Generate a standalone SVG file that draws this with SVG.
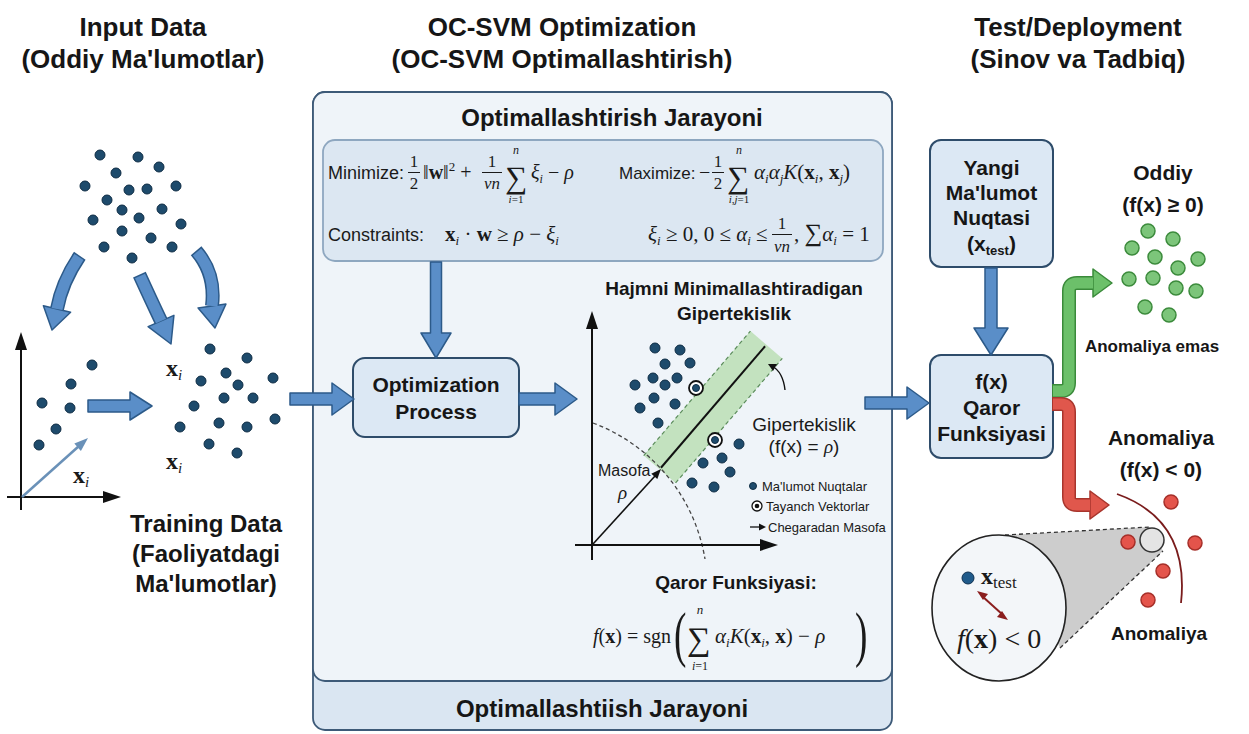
<svg xmlns="http://www.w3.org/2000/svg" width="1249" height="734" viewBox="0 0 1249 734">
<defs>
<style>
.h{font-family:"Liberation Sans",Arial,sans-serif;font-weight:bold;fill:#161616;text-anchor:middle}
.s{font-family:"Liberation Sans",Arial,sans-serif;fill:#1a1a1a}
.m{font-family:"Liberation Serif","DejaVu Serif",serif;fill:#1a1a1a}
.mc{font-family:"Liberation Serif","DejaVu Serif",serif;fill:#1a1a1a;text-anchor:middle}
.i{font-style:italic}
.b{font-weight:bold}
.dot{fill:#1e4b6c;stroke:#0e2c44;stroke-width:1}
.barrow{fill:#5a8ec8;stroke:#2c5a89;stroke-width:1.5;stroke-linejoin:round}
.bo{fill:none;stroke:#2c5a89;stroke-width:14}
.bi{fill:none;stroke:#5a8ec8;stroke-width:11}
.gdot{fill:#7cc57a;stroke:#3c8b3c;stroke-width:1.5}
.rdot{fill:#e4544b;stroke:#a62f29;stroke-width:1.5}
.ax{stroke:#111;stroke-width:2;fill:none}
.box{fill:#dce8f4;stroke:#2e4c6a;stroke-width:2}
</style>
</defs>
<rect width="1249" height="734" fill="#ffffff"/>

<!-- Titles -->
<g id="titles">
<text class="h" x="143" y="36" font-size="26">Input Data</text>
<text class="h" x="143" y="68" font-size="26">(Oddiy Ma'lumotlar)</text>
<text class="h" x="562" y="36" font-size="26">OC-SVM Optimization</text>
<text class="h" x="562" y="68" font-size="26">(OC-SVM Optimallashtirish)</text>
<text class="h" x="1078" y="36" font-size="26">Test/Deployment</text>
<text class="h" x="1078" y="68" font-size="26">(Sinov va Tadbiq)</text>
</g>

<!-- Input data cluster -->
<g id="input-data">
<circle class="dot" cx="100" cy="155" r="5"/><circle class="dot" cx="138" cy="157" r="5"/>
<circle class="dot" cx="116" cy="173" r="5"/><circle class="dot" cx="159" cy="167" r="5"/>
<circle class="dot" cx="85" cy="186" r="5"/><circle class="dot" cx="129" cy="190" r="5"/>
<circle class="dot" cx="147" cy="189" r="5"/><circle class="dot" cx="176" cy="186" r="5"/>
<circle class="dot" cx="107" cy="200" r="5"/><circle class="dot" cx="122" cy="210" r="5"/>
<circle class="dot" cx="162" cy="209" r="5"/><circle class="dot" cx="93" cy="220" r="5"/>
<circle class="dot" cx="139" cy="218" r="5"/><circle class="dot" cx="181" cy="224" r="5"/>
<circle class="dot" cx="122" cy="231" r="5"/><circle class="dot" cx="151" cy="238" r="5"/>
<circle class="dot" cx="104" cy="247" r="5"/><circle class="dot" cx="172" cy="247" r="5"/>
<circle class="dot" cx="132" cy="258" r="5"/>
</g>

<!-- Left plot -->
<g id="left-plot">
<line class="ax" x1="21" y1="510" x2="21" y2="346"/>
<polygon points="15,350 21,332 27,350" fill="#111"/>
<line class="ax" x1="7" y1="497" x2="106" y2="497"/>
<polygon points="103,491 121,497 103,503" fill="#111"/>
<circle class="dot" cx="92" cy="365" r="5"/><circle class="dot" cx="71" cy="384" r="5"/>
<circle class="dot" cx="42" cy="403" r="5"/><circle class="dot" cx="70" cy="408" r="5"/>
<circle class="dot" cx="56" cy="429" r="5"/><circle class="dot" cx="39" cy="445" r="5"/>
<line x1="22" y1="497" x2="79" y2="446" stroke="#6a91b8" stroke-width="2.5"/>
<polygon points="88,438 80.9,451 74.3,443.6" fill="#6a91b8"/>
<text class="m" x="73" y="483" font-size="24"><tspan class="b">x</tspan><tspan class="i" font-size="15" dy="4">i</tspan></text>
</g>

<!-- Training data cluster -->
<g id="training-data">
<circle class="dot" cx="210" cy="349" r="5"/><circle class="dot" cx="247" cy="358" r="5"/>
<circle class="dot" cx="226" cy="373" r="5"/><circle class="dot" cx="201" cy="381" r="5"/>
<circle class="dot" cx="273" cy="378" r="5"/><circle class="dot" cx="238" cy="385" r="5"/>
<circle class="dot" cx="224" cy="398" r="5"/><circle class="dot" cx="253" cy="398" r="5"/>
<circle class="dot" cx="194" cy="406" r="5"/><circle class="dot" cx="180" cy="427" r="5"/>
<circle class="dot" cx="219" cy="423" r="5"/><circle class="dot" cx="247" cy="427" r="5"/>
<circle class="dot" cx="275" cy="419" r="5"/><circle class="dot" cx="209" cy="444" r="5"/>
<circle class="dot" cx="237" cy="453" r="5"/>
<text class="m" x="166" y="376" font-size="24"><tspan class="b">x</tspan><tspan class="i" font-size="15" dy="4">i</tspan></text>
<text class="m" x="166" y="469" font-size="24"><tspan class="b">x</tspan><tspan class="i" font-size="15" dy="4">i</tspan></text>
<text class="h" x="206" y="532" font-size="24">Training Data</text>
<text class="h" x="206" y="562" font-size="24">(Faoliyatdagi</text>
<text class="h" x="206" y="592" font-size="24">Ma'lumotlar)</text>
</g>

<!-- Middle panel -->
<g id="optimization-panel">
<rect x="313" y="92" width="579" height="638" rx="12" fill="#dae6f2" stroke="#3d5a78" stroke-width="1.8"/>
<rect x="313" y="92" width="579" height="589" rx="12" fill="#eff4f9" stroke="#3d5a78" stroke-width="1.8"/>
<text class="h" x="612" y="126" font-size="24">Optimallashtirish Jarayoni</text>
<text class="h" x="602" y="717" font-size="24">Optimallashtiish Jarayoni</text>
</g>

<g id="formula-box">
<rect x="323" y="140" width="560" height="121" rx="12" fill="#dce7f2" stroke="#8ea7c0" stroke-width="1.8"/>
<!-- Row 1 left -->
<text class="s" x="328" y="179" font-size="18">Minimize:</text>
<text class="mc" x="414" y="167" font-size="17">1</text>
<line x1="408" y1="172.5" x2="420" y2="172.5" stroke="#1a1a1a" stroke-width="1"/>
<text class="mc" x="414" y="189" font-size="17">2</text>
<text class="m" x="423" y="179" font-size="20">‖<tspan class="b">w</tspan>‖<tspan font-size="13" dy="-8">2</tspan><tspan dy="8"> +</tspan></text>
<text class="mc" x="492" y="167" font-size="17">1</text>
<line x1="482" y1="172.5" x2="502" y2="172.5" stroke="#1a1a1a" stroke-width="1"/>
<text class="mc i" x="492" y="189" font-size="17">νn</text>
<text class="m" x="505" y="188" font-size="31">∑</text>
<text class="mc i" x="516" y="154" font-size="12">n</text>
<text class="mc" x="516" y="203" font-size="11"><tspan class="i">i</tspan>=1</text>
<text class="m" x="531" y="179" font-size="20"><tspan class="i">ξ</tspan><tspan class="i" font-size="12" dy="4">i</tspan><tspan dy="-4"> − </tspan><tspan class="i">ρ</tspan></text>
<!-- Row 1 right -->
<text class="s" x="619" y="179" font-size="17">Maximize:</text>
<text class="m" x="699" y="179" font-size="20">−</text>
<text class="mc" x="718" y="167" font-size="17">1</text>
<line x1="712" y1="172.5" x2="724" y2="172.5" stroke="#1a1a1a" stroke-width="1"/>
<text class="mc" x="718" y="189" font-size="17">2</text>
<text class="m" x="727" y="188" font-size="31">∑</text>
<text class="mc i" x="739" y="154" font-size="12">n</text>
<text class="mc" x="739" y="203" font-size="11"><tspan class="i">i</tspan>,<tspan class="i">j</tspan>=1</text>
<text class="m" x="754" y="179" font-size="21"><tspan class="i">α</tspan><tspan class="i" font-size="13" dy="4">i</tspan><tspan class="i" dy="-4">α</tspan><tspan class="i" font-size="13" dy="4">j</tspan><tspan class="i" dy="-4">K</tspan>(<tspan class="b">x</tspan><tspan class="i" font-size="13" dy="4">i</tspan><tspan dy="-4">, </tspan><tspan class="b">x</tspan><tspan class="i" font-size="13" dy="4">j</tspan><tspan dy="-4">)</tspan></text>
<!-- Row 2 left -->
<text class="s" x="328" y="241" font-size="18">Constraints:</text>
<text class="m" x="445" y="241" font-size="21"><tspan class="b">x</tspan><tspan class="i" font-size="13" dy="4">i</tspan><tspan dy="-4"> · </tspan><tspan class="b">w</tspan> ≥ <tspan class="i">ρ</tspan> − <tspan class="i">ξ</tspan><tspan class="i" font-size="13" dy="4">i</tspan></text>
<!-- Row 2 right -->
<text class="m" x="648" y="241" font-size="21"><tspan class="i">ξ</tspan><tspan class="i" font-size="13" dy="4">i</tspan><tspan dy="-4"> ≥ 0, 0 ≤ </tspan><tspan class="i">α</tspan><tspan class="i" font-size="13" dy="4">i</tspan><tspan dy="-4"> ≤</tspan></text>
<text class="mc" x="782" y="229" font-size="17">1</text>
<line x1="772" y1="234.5" x2="792" y2="234.5" stroke="#1a1a1a" stroke-width="1"/>
<text class="mc i" x="782" y="252" font-size="17">νn</text>
<text class="m" x="794" y="241" font-size="21">, <tspan font-size="25">∑</tspan><tspan class="i">α</tspan><tspan class="i" font-size="13" dy="4">i</tspan><tspan dy="-4"> = 1</tspan></text>
</g>

<g id="optimization-process">
<rect x="353" y="358" width="166" height="79" rx="12" class="box"/>
<text class="h" x="436" y="392" font-size="21">Optimization</text>
<text class="h" x="436" y="419" font-size="21">Process</text>
</g>

<!-- Hyperplane plot -->
<g id="hyperplane-plot">
<text class="h" x="734" y="295" font-size="19">Hajmni Minimallashtiradigan</text>
<text class="h" x="734" y="320" font-size="19">Gipertekislik</text>
<g transform="translate(713,407) rotate(-49.4)">
<rect x="-82" y="-21" width="164" height="42" fill="#c3e2bf"/>
<line x1="-82" y1="-21" x2="82" y2="-21" stroke="#5b8c5b" stroke-width="1.2" stroke-dasharray="4,3"/>
<line x1="-82" y1="21" x2="82" y2="21" stroke="#5b8c5b" stroke-width="1.2" stroke-dasharray="4,3"/>
<line x1="-80" y1="0" x2="80" y2="0" stroke="#111" stroke-width="2"/>
</g>
<path d="M593,423 A176,176 0 0 1 705,559" fill="none" stroke="#444" stroke-width="1.3" stroke-dasharray="4,3"/>
<line class="ax" x1="592" y1="560" x2="592" y2="327"/>
<polygon points="586,329 592,311 598,329" fill="#111"/>
<line class="ax" x1="575" y1="545" x2="762" y2="545"/>
<polygon points="760,539 778,545 760,551" fill="#111"/>
<circle class="dot" cx="655" cy="348" r="5"/><circle class="dot" cx="680" cy="350" r="5"/>
<circle class="dot" cx="665" cy="364" r="5"/><circle class="dot" cx="690" cy="363" r="5"/>
<circle class="dot" cx="635" cy="385" r="5"/><circle class="dot" cx="653" cy="378" r="5"/>
<circle class="dot" cx="665" cy="385" r="5"/><circle class="dot" cx="677" cy="378" r="5"/>
<circle class="dot" cx="640" cy="408" r="5"/><circle class="dot" cx="654" cy="398" r="5"/>
<circle class="dot" cx="675" cy="404" r="5"/><circle class="dot" cx="658" cy="423" r="5"/>
<circle class="dot" cx="739" cy="444" r="5"/><circle class="dot" cx="722" cy="458" r="5"/>
<circle class="dot" cx="703" cy="463" r="5"/><circle class="dot" cx="730" cy="472" r="5"/>
<circle class="dot" cx="692" cy="483" r="5"/><circle class="dot" cx="714" cy="487" r="5"/>
<circle cx="696" cy="388" r="7" fill="#fff" stroke="#111" stroke-width="1.8"/><circle class="dot" cx="696" cy="388" r="3.5"/>
<circle cx="715" cy="440" r="7" fill="#fff" stroke="#111" stroke-width="1.8"/><circle class="dot" cx="715" cy="440" r="3.5"/>
<line x1="593" y1="544" x2="655" y2="476" stroke="#111" stroke-width="1.6"/>
<polygon points="661,469 657.3,479.1 651.3,473.7" fill="#111"/>
<text class="s" x="598" y="476" font-size="16">Masofa</text>
<text class="m i" x="618" y="499" font-size="19">ρ</text>
<path d="M785,390 Q783,372 772,366" fill="none" stroke="#111" stroke-width="1.4"/>
<polygon points="768,364 777,364 773,371" fill="#111"/>
<text class="s" x="804" y="431" font-size="19" text-anchor="middle">Gipertekislik</text>
<text class="s" x="804" y="453" font-size="19" text-anchor="middle">(f(x) = <tspan class="i" font-family="Liberation Serif,serif">ρ</tspan>)</text>
<circle class="dot" cx="753" cy="486" r="3.5"/>
<text class="s" x="762" y="491" font-size="13" fill="#333">Ma'lumot Nuqtalar</text>
<circle cx="757" cy="506" r="5" fill="#fff" stroke="#111" stroke-width="1.3"/><circle cx="757" cy="506" r="2.3" fill="#111"/>
<text class="s" x="766" y="511" font-size="13" fill="#333">Tayanch Vektorlar</text>
<line x1="750" y1="527" x2="760" y2="527" stroke="#111" stroke-width="1.3"/>
<polygon points="759,523.5 766,527 759,530.5" fill="#111"/>
<text class="s" x="768" y="532" font-size="13" fill="#333">Chegaradan Masofa</text>
</g>

<g id="decision-function">
<text class="h" x="736" y="589" font-size="19">Qaror Funksiyasi:</text>
<text class="m" x="593" y="643" font-size="20"><tspan class="i">f</tspan>(<tspan class="b">x</tspan>) = sgn</text>
<text class="m" transform="translate(674,655) scale(0.6,1)" font-size="62">(</text>
<text class="m" x="687" y="650" font-size="33">∑</text>
<text class="mc i" x="700" y="614" font-size="13">n</text>
<text class="mc" x="700" y="670" font-size="12"><tspan class="i">i</tspan>=1</text>
<text class="m" x="715" y="643" font-size="21"><tspan class="i">α</tspan><tspan class="i" font-size="13" dy="4">i</tspan><tspan class="i" dy="-4">K</tspan>(<tspan class="b">x</tspan><tspan class="i" font-size="13" dy="4">i</tspan><tspan dy="-4">, </tspan><tspan class="b">x</tspan>) − <tspan class="i">ρ</tspan></text>
<text class="m" transform="translate(855,655) scale(0.6,1)" font-size="62">)</text>
</g>

<!-- Right column -->
<g id="new-data-point">
<rect x="930" y="140" width="123" height="127" rx="11" class="box"/>
<text class="h" x="991.5" y="175" font-size="21">Yangi</text>
<text class="h" x="991.5" y="200" font-size="21">Ma'lumot</text>
<text class="h" x="991.5" y="225" font-size="21">Nuqtasi</text>
<text class="h" x="991.5" y="251" font-size="21">(x<tspan font-size="13" dy="4">test</tspan><tspan dy="-4">)</tspan></text>
</g>

<g id="decision-box">
<rect x="930" y="355" width="123" height="103" rx="11" class="box"/>
<text class="h" x="991.5" y="389" font-size="21">f(x)</text>
<text class="h" x="991.5" y="415" font-size="21">Qaror</text>
<text class="h" x="991.5" y="441" font-size="21">Funksiyasi</text>
</g>

<g id="normal-output">
<text class="h" x="1163" y="180" font-size="21">Oddiy</text>
<text class="h" x="1163" y="212" font-size="21">(f(x) ≥ 0)</text>
<circle class="gdot" cx="1148" cy="231" r="7"/><circle class="gdot" cx="1173" cy="239" r="7"/>
<circle class="gdot" cx="1132" cy="248" r="7"/><circle class="gdot" cx="1155" cy="257" r="7"/>
<circle class="gdot" cx="1198" cy="259" r="7"/><circle class="gdot" cx="1178" cy="268" r="7"/>
<circle class="gdot" cx="1129" cy="279" r="7"/><circle class="gdot" cx="1153" cy="278" r="7"/>
<circle class="gdot" cx="1176" cy="288" r="7"/><circle class="gdot" cx="1196" cy="291" r="7"/>
<circle class="gdot" cx="1145" cy="307" r="7"/><circle class="gdot" cx="1169" cy="315" r="7"/>
<text class="h" x="1152" y="352" font-size="17">Anomaliya emas</text>
</g>

<g id="anomaly-output">
<text class="h" x="1161" y="445" font-size="21">Anomaliya</text>
<text class="h" x="1161" y="477" font-size="21">(f(x) &lt; 0)</text>
<polygon points="1005,535 1150,527 1163,551 1060,648" fill="#cdcdcd"/>
<line x1="1005" y1="535" x2="1150" y2="527" stroke="#333" stroke-width="1.3" stroke-dasharray="4,3"/>
<line x1="1060" y1="648" x2="1163" y2="551" stroke="#333" stroke-width="1.3" stroke-dasharray="4,3"/>
<ellipse cx="999" cy="608" rx="67" ry="73" fill="#f3f6f9" stroke="#222" stroke-width="1.6"/>
<path d="M1117,494 Q1190,520 1181,603" fill="none" stroke="#7a1c1c" stroke-width="1.8"/>
<circle class="rdot" cx="1171" cy="502" r="7"/>
<circle class="rdot" cx="1128" cy="542" r="7"/>
<circle class="rdot" cx="1195" cy="543" r="7"/>
<circle class="rdot" cx="1163" cy="571" r="7"/>
<circle class="rdot" cx="1148" cy="600" r="7"/>
<circle cx="1152" cy="540" r="12" fill="#e4e4e4" stroke="#333" stroke-width="1.5"/>
<circle cx="968" cy="578" r="6" fill="#1f5a8a" stroke="#0e3050" stroke-width="1"/>
<text class="m" x="981" y="584" font-size="24"><tspan class="b">x</tspan><tspan font-size="17" dy="4">test</tspan></text>
<line x1="982" y1="596" x2="1003" y2="615" stroke="#8b1e1e" stroke-width="2"/>
<polygon points="977,591 988,594 983,600" fill="#8b1e1e"/>
<polygon points="1008,620 997,617 1002,611" fill="#8b1e1e"/>
<text class="m" x="957" y="648" font-size="28"><tspan class="i">f</tspan>(<tspan class="b">x</tspan>) &lt; 0</text>
<text class="h" x="1159" y="640" font-size="19">Anomaliya</text>
</g>

<!-- Connectors -->
<g id="connectors">
<path class="barrow" d="M88,400 L130,400 L130,392 L152,406 L130,420 L130,412 L88,412 Z"/>
<path class="barrow" d="M290,393 L332,393 L332,383 L354,399 L332,415 L332,405 L290,405 Z"/>
<path class="barrow" d="M519,393 L555,393 L555,383 L577,399 L555,415 L555,405 L519,405 Z"/>
<path class="barrow" d="M865,397 L907,397 L907,387 L929,403 L907,419 L907,409 L865,409 Z"/>
<path class="barrow" d="M430.5,262 L441.5,262 L441.5,333 L451,333 L436,358 L421,333 L430.5,333 Z"/>
<path class="barrow" d="M985,268 L997,268 L997,328 L1008,328 L991,355 L974,328 L985,328 Z"/>
<!-- curved input arrows -->
<path class="bo" d="M79.8,255.8 Q62,282 57,309"/>
<polygon class="barrow" points="70.6,312.2 52,330 43.4,305.8"/>
<path class="bi" d="M79,257 Q62,282 57,309"/>
<path class="bo" d="M139.4,274.6 Q151,300 161,321"/>
<polygon class="barrow" points="173.9,315.4 171,344 148.1,326.6"/>
<path class="bi" d="M140,276 Q151,300 161,321"/>
<path class="bo" d="M196.1,250.8 Q216,274 212,306"/>
<polygon class="barrow" points="225.9,304.1 215,328 198.1,307.9"/>
<path class="bi" d="M197,252 Q216,274 212,306"/>
<!-- green branch -->
<path d="M1052,391 H1061 Q1069,391 1069,383 V291 Q1069,283 1077,283 H1093" fill="none" stroke="#3a8a3a" stroke-width="14"/>
<polygon points="1093,269 1112,283 1093,297" fill="#6cc06a" stroke="#3a8a3a" stroke-width="1.5" stroke-linejoin="round"/>
<path d="M1053,391 H1061 Q1069,391 1069,383 V291 Q1069,283 1077,283 H1093" fill="none" stroke="#6cc06a" stroke-width="11"/>
<!-- red branch -->
<path d="M1052,404 H1061 Q1069,404 1069,412 V497 Q1069,505 1077,505 H1090" fill="none" stroke="#a8352c" stroke-width="14"/>
<polygon points="1090,491 1109,505 1090,519" fill="#e0574c" stroke="#a8352c" stroke-width="1.5" stroke-linejoin="round"/>
<path d="M1053,404 H1061 Q1069,404 1069,412 V497 Q1069,505 1077,505 H1090" fill="none" stroke="#e0574c" stroke-width="11"/>
</g>
</svg>
